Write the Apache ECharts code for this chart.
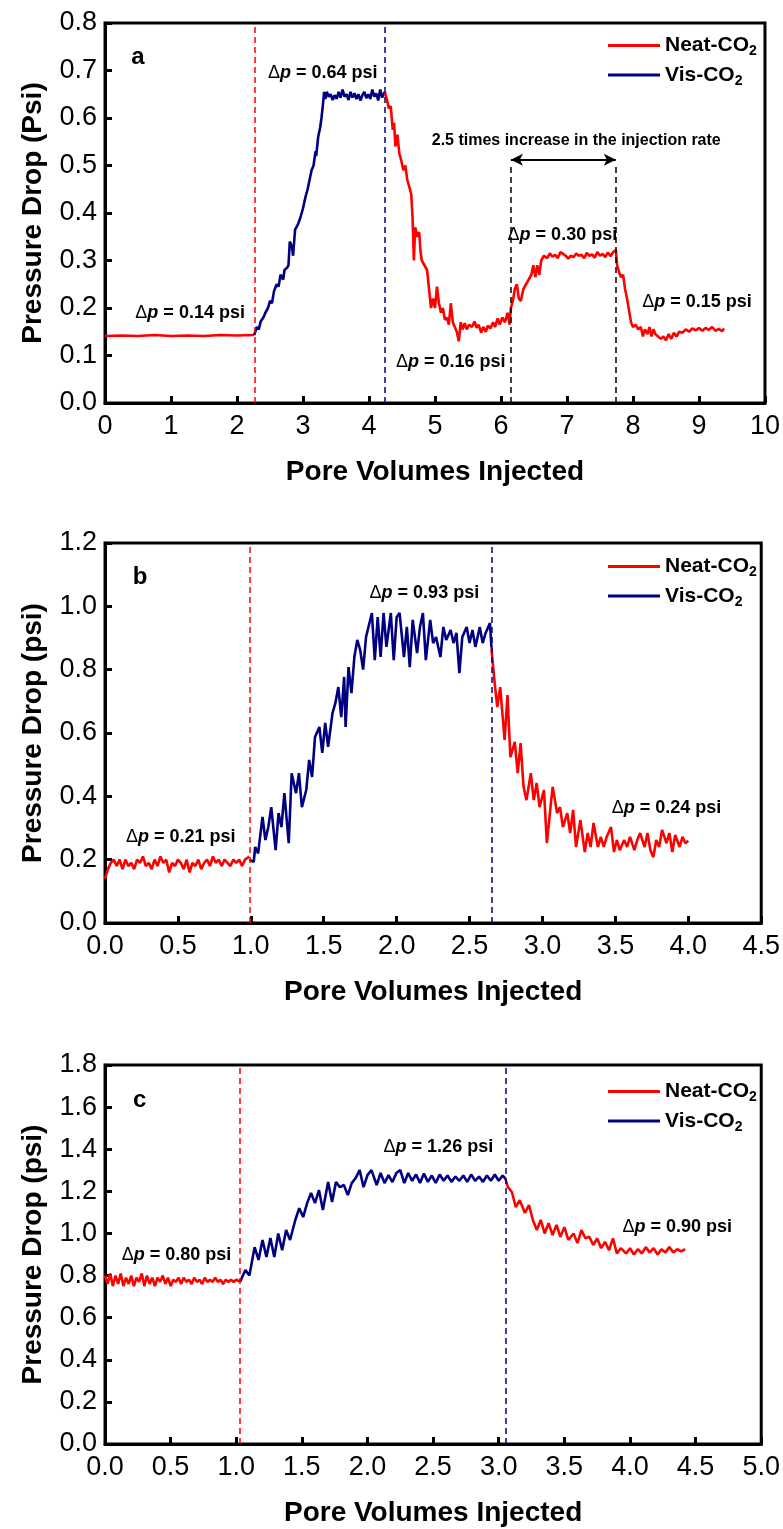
<!DOCTYPE html>
<html>
<head>
<meta charset="utf-8">
<script src="https://cdn.jsdelivr.net/npm/echarts@6/dist/echarts.min.js"></script>
<style>
  html, body { margin: 0; padding: 0; background: #fff; }
  #main { width: 783px; height: 1529px; }
</style>
</head>
<body>
<div id="main"></div>
<script>
// panel a
var aNeatPre = [[0,0.141],[0.25,0.142],[0.5,0.141],[0.75,0.143],[1.0,0.141],[1.25,0.142],[1.5,0.141],[1.75,0.143],[2.0,0.142],[2.26,0.143]];
var aVis = [[2.26,0.143],[2.3,0.16],[2.33,0.155],[2.36,0.172],[2.4,0.18],[2.43,0.19],[2.47,0.2],[2.5,0.215],[2.53,0.21],[2.56,0.235],[2.6,0.25],[2.63,0.245],[2.66,0.27],[2.7,0.26],[2.72,0.28],[2.76,0.285],[2.78,0.29],[2.8,0.34],[2.83,0.33],[2.85,0.31],[2.88,0.365],[2.92,0.375],[2.96,0.39],[3.0,0.41],[3.04,0.435],[3.07,0.45],[3.1,0.47],[3.13,0.49],[3.16,0.5],[3.19,0.53],[3.2,0.52],[3.23,0.56],[3.26,0.58],[3.28,0.6],[3.3,0.625],[3.32,0.655],[3.34,0.64],[3.36,0.655],[3.39,0.645],[3.42,0.65],[3.45,0.638],[3.48,0.648],[3.51,0.64],[3.54,0.655],[3.57,0.643],[3.6,0.66],[3.63,0.645],[3.66,0.65],[3.69,0.638],[3.72,0.655],[3.75,0.643],[3.78,0.652],[3.81,0.64],[3.84,0.65],[3.87,0.637],[3.9,0.648],[3.93,0.655],[3.96,0.642],[3.99,0.65],[4.02,0.64],[4.05,0.66],[4.08,0.645],[4.11,0.652],[4.14,0.637],[4.17,0.66],[4.2,0.643],[4.24,0.655]];
var aNeatPost = [[4.24,0.655],[4.27,0.64],[4.3,0.62],[4.33,0.625],[4.36,0.575],[4.38,0.59],[4.4,0.54],[4.43,0.565],[4.46,0.525],[4.49,0.51],[4.52,0.49],[4.55,0.5],[4.58,0.47],[4.61,0.455],[4.64,0.44],[4.66,0.39],[4.68,0.3],[4.7,0.37],[4.73,0.35],[4.76,0.36],[4.78,0.32],[4.8,0.3],[4.84,0.29],[4.88,0.28],[4.91,0.24],[4.94,0.2],[4.97,0.22],[5.0,0.2],[5.03,0.245],[5.06,0.21],[5.09,0.19],[5.12,0.2],[5.15,0.175],[5.18,0.18],[5.21,0.165],[5.24,0.21],[5.27,0.17],[5.3,0.16],[5.33,0.15],[5.36,0.13],[5.39,0.17],[5.42,0.155],[5.45,0.168],[5.48,0.155],[5.52,0.165],[5.56,0.16],[5.6,0.172],[5.63,0.158],[5.66,0.165],[5.7,0.148],[5.73,0.16],[5.77,0.15],[5.8,0.163],[5.84,0.157],[5.88,0.17],[5.91,0.16],[5.95,0.178],[5.98,0.165],[6.02,0.18],[6.06,0.17],[6.1,0.19],[6.13,0.165],[6.15,0.2],[6.18,0.215],[6.21,0.24],[6.24,0.25],[6.27,0.22],[6.3,0.215],[6.34,0.24],[6.38,0.25],[6.42,0.26],[6.46,0.27],[6.49,0.29],[6.52,0.265],[6.55,0.29],[6.58,0.27],[6.61,0.3],[6.65,0.31],[6.7,0.305],[6.74,0.315],[6.78,0.308],[6.82,0.312],[6.86,0.305],[6.9,0.318],[6.94,0.314],[6.98,0.31],[7.02,0.304],[7.06,0.31],[7.1,0.307],[7.14,0.315],[7.18,0.31],[7.22,0.312],[7.26,0.305],[7.3,0.316],[7.34,0.31],[7.38,0.313],[7.42,0.306],[7.46,0.318],[7.5,0.31],[7.54,0.314],[7.58,0.307],[7.62,0.317],[7.66,0.309],[7.7,0.318],[7.74,0.322],[7.76,0.29],[7.79,0.275],[7.82,0.265],[7.85,0.27],[7.88,0.24],[7.91,0.22],[7.94,0.195],[7.97,0.17],[8.0,0.16],[8.04,0.165],[8.08,0.155],[8.12,0.16],[8.15,0.14],[8.18,0.155],[8.22,0.145],[8.25,0.16],[8.28,0.14],[8.31,0.155],[8.34,0.145],[8.38,0.14],[8.42,0.135],[8.46,0.14],[8.5,0.132],[8.54,0.145],[8.58,0.135],[8.62,0.148],[8.66,0.14],[8.7,0.15],[8.75,0.148],[8.8,0.155],[8.85,0.15],[8.9,0.157],[8.95,0.153],[9.0,0.158],[9.05,0.152],[9.1,0.158],[9.15,0.154],[9.2,0.16],[9.25,0.152],[9.3,0.156],[9.35,0.151],[9.38,0.157]];

// panel b
var bNeatPre = [[0,0.14],[0.02,0.17],[0.04,0.19],[0.06,0.2],[0.08,0.18],[0.1,0.2],[0.12,0.17],[0.14,0.2],[0.16,0.18],[0.18,0.19],[0.2,0.17],[0.22,0.2],[0.24,0.19],[0.26,0.21],[0.28,0.18],[0.3,0.19],[0.32,0.17],[0.34,0.2],[0.36,0.18],[0.38,0.21],[0.4,0.19],[0.42,0.2],[0.44,0.16],[0.46,0.19],[0.48,0.18],[0.5,0.2],[0.52,0.19],[0.54,0.17],[0.56,0.2],[0.58,0.16],[0.6,0.19],[0.62,0.18],[0.64,0.2],[0.66,0.17],[0.68,0.19],[0.7,0.2],[0.72,0.18],[0.74,0.21],[0.76,0.19],[0.78,0.2],[0.8,0.18],[0.82,0.2],[0.84,0.19],[0.86,0.18],[0.88,0.2],[0.9,0.19],[0.92,0.2],[0.94,0.18],[0.96,0.2],[0.99,0.21]];
var bVis = [[0.99,0.2],[1.02,0.193],[1.03,0.24],[1.05,0.22],[1.08,0.335],[1.1,0.262],[1.12,0.303],[1.14,0.366],[1.17,0.23],[1.19,0.347],[1.21,0.303],[1.23,0.41],[1.26,0.252],[1.28,0.473],[1.31,0.41],[1.33,0.473],[1.35,0.366],[1.38,0.42],[1.4,0.515],[1.42,0.461],[1.44,0.587],[1.47,0.619],[1.49,0.537],[1.51,0.632],[1.53,0.556],[1.56,0.663],[1.58,0.695],[1.6,0.745],[1.62,0.65],[1.64,0.777],[1.65,0.619],[1.67,0.808],[1.69,0.726],[1.71,0.84],[1.73,0.894],[1.75,0.862],[1.77,0.8],[1.79,0.903],[1.83,0.979],[1.85,0.83],[1.87,0.966],[1.89,0.84],[1.91,0.979],[1.93,0.872],[1.96,0.979],[1.98,0.83],[2.0,0.966],[2.02,0.979],[2.05,0.84],[2.07,0.935],[2.09,0.808],[2.11,0.957],[2.14,0.852],[2.16,0.935],[2.18,0.979],[2.2,0.83],[2.23,0.957],[2.25,0.884],[2.27,0.903],[2.3,0.84],[2.32,0.935],[2.34,0.894],[2.37,0.925],[2.39,0.884],[2.41,0.916],[2.43,0.789],[2.45,0.903],[2.48,0.935],[2.5,0.884],[2.52,0.925],[2.54,0.872],[2.57,0.935],[2.59,0.884],[2.61,0.916],[2.64,0.947],[2.65,0.87]];
var bNeatPost = [[2.65,0.868],[2.67,0.767],[2.69,0.682],[2.71,0.745],[2.74,0.578],[2.76,0.72],[2.78,0.524],[2.81,0.572],[2.83,0.473],[2.85,0.568],[2.87,0.43],[2.89,0.388],[2.92,0.473],[2.94,0.388],[2.96,0.442],[2.98,0.366],[3.01,0.42],[3.03,0.252],[3.06,0.388],[3.07,0.43],[3.1,0.347],[3.12,0.366],[3.14,0.303],[3.17,0.347],[3.19,0.284],[3.21,0.357],[3.23,0.24],[3.26,0.325],[3.29,0.224],[3.31,0.284],[3.33,0.24],[3.35,0.316],[3.38,0.24],[3.4,0.272],[3.42,0.24],[3.44,0.272],[3.47,0.303],[3.49,0.224],[3.51,0.262],[3.53,0.23],[3.56,0.262],[3.58,0.24],[3.6,0.272],[3.63,0.23],[3.65,0.262],[3.67,0.284],[3.7,0.24],[3.72,0.284],[3.74,0.23],[3.76,0.208],[3.78,0.262],[3.8,0.24],[3.82,0.294],[3.85,0.252],[3.87,0.284],[3.89,0.224],[3.91,0.278],[3.94,0.24],[3.96,0.272],[3.98,0.252],[4.0,0.26]];

// panel c
var cNeatPre = [[0,0.8],[0.02,0.76],[0.04,0.81],[0.06,0.75],[0.08,0.8],[0.1,0.76],[0.12,0.81],[0.14,0.75],[0.16,0.79],[0.18,0.76],[0.2,0.8],[0.22,0.75],[0.24,0.79],[0.26,0.77],[0.28,0.81],[0.3,0.75],[0.32,0.8],[0.34,0.76],[0.36,0.79],[0.38,0.75],[0.4,0.79],[0.42,0.77],[0.44,0.8],[0.46,0.76],[0.48,0.79],[0.5,0.75],[0.52,0.78],[0.54,0.77],[0.56,0.79],[0.58,0.76],[0.6,0.79],[0.62,0.77],[0.64,0.78],[0.66,0.76],[0.68,0.79],[0.7,0.77],[0.72,0.78],[0.74,0.76],[0.76,0.79],[0.78,0.77],[0.8,0.78],[0.82,0.77],[0.84,0.79],[0.86,0.77],[0.88,0.78],[0.9,0.76],[0.92,0.78],[0.94,0.77],[0.96,0.78],[0.98,0.77],[1.0,0.78],[1.03,0.77]];
var cVis = [[1.03,0.77],[1.05,0.8],[1.07,0.826],[1.1,0.8],[1.14,0.935],[1.17,0.874],[1.2,0.969],[1.23,0.888],[1.26,0.978],[1.29,0.888],[1.32,1.0],[1.35,0.92],[1.38,1.016],[1.41,0.969],[1.45,1.064],[1.48,1.12],[1.51,1.078],[1.54,1.144],[1.57,1.192],[1.6,1.144],[1.63,1.206],[1.66,1.111],[1.7,1.244],[1.73,1.149],[1.76,1.244],[1.79,1.22],[1.82,1.23],[1.85,1.182],[1.88,1.239],[1.91,1.263],[1.94,1.301],[1.97,1.22],[2.0,1.277],[2.03,1.301],[2.07,1.23],[2.1,1.287],[2.13,1.239],[2.16,1.277],[2.19,1.244],[2.22,1.287],[2.25,1.301],[2.28,1.239],[2.31,1.287],[2.34,1.25],[2.37,1.28],[2.4,1.24],[2.43,1.285],[2.46,1.245],[2.49,1.275],[2.52,1.24],[2.55,1.28],[2.58,1.25],[2.61,1.275],[2.64,1.245],[2.67,1.27],[2.7,1.25],[2.73,1.275],[2.76,1.245],[2.79,1.28],[2.82,1.25],[2.85,1.27],[2.88,1.245],[2.91,1.275],[2.94,1.25],[2.97,1.28],[3.0,1.25],[3.03,1.275],[3.05,1.26]];
var cNeatPost = [[3.05,1.26],[3.07,1.22],[3.1,1.197],[3.13,1.125],[3.16,1.158],[3.2,1.097],[3.23,1.135],[3.26,1.064],[3.29,1.016],[3.32,1.064],[3.35,1.0],[3.38,1.049],[3.41,0.992],[3.44,1.04],[3.47,0.984],[3.5,1.03],[3.53,0.969],[3.57,1.0],[3.6,0.954],[3.63,1.016],[3.66,0.977],[3.69,0.984],[3.72,0.945],[3.75,0.977],[3.78,0.93],[3.81,0.96],[3.84,0.92],[3.87,0.977],[3.9,0.905],[3.93,0.93],[3.97,0.905],[4.0,0.93],[4.03,0.9],[4.06,0.925],[4.09,0.905],[4.12,0.935],[4.15,0.91],[4.18,0.93],[4.21,0.9],[4.24,0.925],[4.27,0.91],[4.3,0.935],[4.33,0.91],[4.36,0.925],[4.39,0.915],[4.42,0.925]];

// switch points (dashed lines)
var aSwitch = [2.27, 4.24];
var bSwitch = [0.99, 2.65];
var cSwitch = [1.03, 3.05];
var aRateWindow = [6.15, 7.74];

// annotations: x, y, text
var aNotes = [[1.29,0.19,'0.14'],[3.3,0.695,'0.64'],[5.24,0.087,'0.16'],[6.93,0.354,'0.30'],[8.97,0.213,'0.15']];
var bNotes = [[0.52,0.27,'0.21'],[2.19,1.042,'0.93'],[3.85,0.363,'0.24']];
var cNotes = [[0.545,0.897,'0.80'],[2.54,1.41,'1.26'],[4.36,1.03,'0.90']];

var RED = '#ff0000', NAVY = '#000080';
var FONT = '"Liberation Sans", Arial, sans-serif';

var chart = echarts.init(document.getElementById('main'));

var grids = [
  {left: 105, top: 23, width: 660, height: 380},
  {left: 105, top: 543, width: 660, height: 380},
  {left: 105, top: 1065, width: 660, height: 379}
];
grids.forEach(function (g) { g.show = true; g.borderColor = '#000'; g.borderWidth = 3; });

function xAx(i, max, interval, dec) {
  return {
    gridIndex: i, type: 'value', min: 0, max: max, interval: interval,
    name: 'Pore Volumes Injected', nameLocation: 'middle', nameGap: 55,
    nameTextStyle: {fontFamily: FONT, fontWeight: 'bold', fontSize: 28, color: '#000'},
    axisLine: {lineStyle: {color: '#000', width: 3}},
    axisTick: {inside: true, length: 7, lineStyle: {width: 3, color: '#000'}},
    axisLabel: {fontFamily: FONT, fontSize: 27, color: '#000', margin: 10, showMinLabel: true, showMaxLabel: true,
      formatter: function (v) { return v.toFixed(dec); }},
    splitLine: {show: false}
  };
}
function yAx(i, max, interval, name) {
  return {
    gridIndex: i, type: 'value', min: 0, max: max, interval: interval,
    name: name, nameLocation: 'middle', nameGap: 58,
    nameTextStyle: {fontFamily: FONT, fontWeight: 'bold', fontSize: 28, color: '#000'},
    axisLine: {lineStyle: {color: '#000', width: 3}},
    axisTick: {inside: true, length: 7, lineStyle: {width: 3, color: '#000'}},
    axisLabel: {fontFamily: FONT, fontSize: 27, color: '#000', margin: 8, showMinLabel: true, showMaxLabel: true,
      formatter: function (v) { return v.toFixed(1); }},
    splitLine: {show: false}
  };
}

function vline(x, color) {
  return {
    silent: true, symbol: 'none', label: {show: false},
    lineStyle: {type: [6, 4], width: 1.5, color: color},
    data: [{xAxis: x}]
  };
}

function lineSeries(i, name, data, color, ml) {
  var s = {
    type: 'line', name: name, xAxisIndex: i, yAxisIndex: i, data: data,
    symbol: 'none', lineStyle: {color: color, width: 2.6}, itemStyle: {color: color}, z: 3
  };
  if (ml) s.markLine = ml;
  return s;
}

var noteRich = {
  d: {fontFamily: FONT, fontSize: 18, color: '#000'},
  p: {fontFamily: FONT, fontSize: 18, fontWeight: 'bold', fontStyle: 'italic', color: '#000'},
  t: {fontFamily: FONT, fontSize: 18, fontWeight: 'bold', color: '#000'},
  r: {fontFamily: FONT, fontSize: 16, fontWeight: 'bold', color: '#000'},
  L: {fontFamily: FONT, fontSize: 24, fontWeight: 'bold', color: '#000'}
};

function noteSeries(i, notes, extra) {
  var data = notes.map(function (n) { return {value: [n[0], n[1]], txt: '{d|\u0394}{p|p}{t| = ' + n[2] + ' psi}'}; });
  (extra || []).forEach(function (e) { data.push(e); });
  return {
    type: 'scatter', xAxisIndex: i, yAxisIndex: i, symbolSize: 0, silent: true, z: 5,
    itemStyle: {color: '#000', opacity: 1},
    data: data.map(function (d) {
      return {value: d.value, label: {
        show: true, position: [0, 0], align: 'center', verticalAlign: 'middle',
        color: '#000', opacity: 1, textBorderWidth: 0, formatter: d.txt, rich: noteRich
      }};
    })
  };
}

function legendFor(top) {
  return {
    orient: 'vertical', left: 603, top: top, itemWidth: 52, itemHeight: 3, itemGap: 6,
    icon: 'rect',
    data: ['Neat-CO2', 'Vis-CO2'], selectedMode: false,
    formatter: function (n) { return n === 'Neat-CO2' ? '{m|Neat-CO}{s|2}' : '{m|Vis-CO}{s|2}'; },
    textStyle: {
      rich: {
        m: {fontFamily: FONT, fontWeight: 'bold', fontSize: 21, color: '#000', lineHeight: 26},
        s: {fontFamily: FONT, fontWeight: 'bold', fontSize: 14, color: '#000', lineHeight: 26, verticalAlign: 'bottom', padding: [8, 0, 0, 0]}
      }
    }
  };
}

var option = {
  animation: false,
  backgroundColor: '#fff',
  grid: grids,
  legend: [legendFor(30), legendFor(551), legendFor(1076)],
  xAxis: [xAx(0, 10, 1, 0), xAx(1, 4.5, 0.5, 1), xAx(2, 5, 0.5, 1)],
  yAxis: [yAx(0, 0.8, 0.1, 'Pressure Drop (Psi)'), yAx(1, 1.2, 0.2, 'Pressure Drop (psi)'), yAx(2, 1.8, 0.2, 'Pressure Drop (psi)')],
  series: [
    lineSeries(0, 'Neat-CO2', aNeatPre, RED, vline(aSwitch[0], RED)),
    lineSeries(0, 'Vis-CO2', aVis, NAVY, vline(aSwitch[1], NAVY)),
    lineSeries(0, 'Neat-CO2', aNeatPost, RED, {
      silent: true, label: {show: false},
      data: [
        [{coord: [aRateWindow[0], 0], symbol: 'none'}, {coord: [aRateWindow[0], 0.5], symbol: 'none'}],
        [{coord: [aRateWindow[1], 0], symbol: 'none'}, {coord: [aRateWindow[1], 0.5], symbol: 'none'}],
        [{coord: [aRateWindow[0], 0.512], symbol: 'arrow', symbolSize: [9, 12], lineStyle: {type: 'solid', width: 2}},
         {coord: [aRateWindow[1], 0.512], symbol: 'arrow', symbolSize: [9, 12]}]
      ],
      lineStyle: {type: [6, 4], width: 1.5, color: '#000'}
    }),
    noteSeries(0, aNotes, [
      {value: [7.14, 0.552], txt: '{r|2.5 times increase in the injection rate}'},
      {value: [0.5, 0.728], txt: '{L|a}'}
    ]),

    lineSeries(1, 'Neat-CO2', bNeatPre, RED, vline(bSwitch[0], RED)),
    lineSeries(1, 'Vis-CO2', bVis, NAVY, vline(bSwitch[1], NAVY)),
    lineSeries(1, 'Neat-CO2', bNeatPost, RED),
    noteSeries(1, bNotes, [{value: [0.24, 1.09], txt: '{L|b}'}]),

    lineSeries(2, 'Neat-CO2', cNeatPre, RED, vline(cSwitch[0], RED)),
    lineSeries(2, 'Vis-CO2', cVis, NAVY, vline(cSwitch[1], NAVY)),
    lineSeries(2, 'Neat-CO2', cNeatPost, RED),
    noteSeries(2, cNotes, [{value: [0.265, 1.633], txt: '{L|c}'}])
  ]
};
chart.setOption(option);
</script>
</body>
</html>
